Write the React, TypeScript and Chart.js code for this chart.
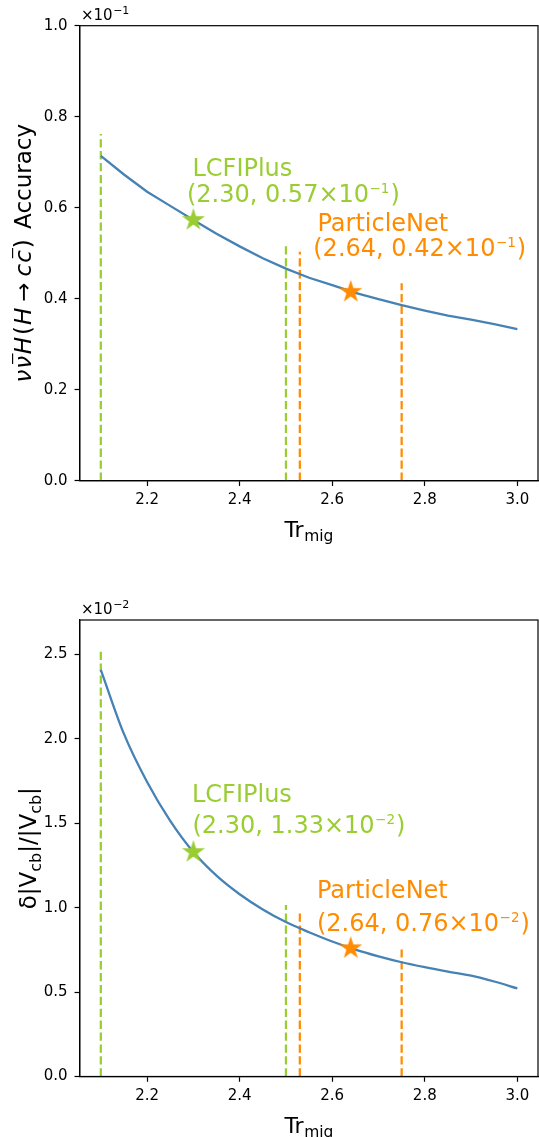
import React, { useEffect, useRef } from 'react';
import { Chart, registerables } from 'chart.js';

Chart.register(...registerables);

// ---------------- data ----------------
const trMig = [2.10, 2.15, 2.20, 2.25, 2.30, 2.35, 2.40, 2.45, 2.50, 2.55, 2.60, 2.65, 2.70, 2.75, 2.80, 2.85, 2.90, 2.95, 3.00];
// nu nubar H(H->c cbar) accuracy, in units of 1e-1
const accuracyE1 = [0.714, 0.673, 0.635, 0.604, 0.573, 0.543, 0.515, 0.489, 0.466, 0.446, 0.430, 0.413, 0.399, 0.386, 0.374, 0.363, 0.354, 0.344, 0.333];
// delta|Vcb|/|Vcb|, in units of 1e-2
const vcbRelErrE2 = [2.41, 2.03, 1.745, 1.515, 1.33, 1.19, 1.08, 0.99, 0.915, 0.855, 0.80, 0.752, 0.712, 0.677, 0.648, 0.622, 0.598, 0.563, 0.522];

const xTickValues = [2.2, 2.4, 2.6, 2.8, 3.0];
const accTickValues = [0.0, 0.2, 0.4, 0.6, 0.8, 1.0];
const vcbTickValues = [0.0, 0.5, 1.0, 1.5, 2.0, 2.5];

const lcfiRangeX = [2.10, 2.50];
const pnRangeX = [2.53, 2.75];
const accLcfiLineTops = [0.762, 0.516];
const accPnLineTops = [0.503, 0.434];
const vcbLcfiLineTops = [2.52, 1.016];
const vcbPnLineTops = [0.976, 0.753];

const methodNames = ['LCFIPlus', 'ParticleNet'];
const workingPointX = [2.30, 2.64];
const accWorkingPoints = [0.573, 0.415];
const vcbWorkingPoints = [1.33, 0.76];
const accPointLabels = ['(2.30, 0.57×10', '(2.64, 0.42×10'];
const vcbPointLabels = ['(2.30, 1.33×10', '(2.64, 0.76×10'];

// ---------------- style ----------------
const BLUE = '#4682b4';
const GREEN = '#9acd32';
const ORANGE = '#ff8c00';
const FONT = '"DejaVu Sans", "Liberation Sans", sans-serif';
const X_MIN = 2.0546;
const X_MAX = 3.0446;
const PLOT_LEFT = 79.8;
const PLOT_RIGHT = 538;

type Part = { t: string; size: number; italic?: boolean; dy?: number; dx?: number; bar?: boolean };

function fontOf(p: Part) {
  return `${p.italic ? 'italic ' : ''}${p.size}px ${FONT}`;
}

function drawParts(ctx: CanvasRenderingContext2D, parts: Part[], x: number, y: number, color: string, align: 'left' | 'center') {
  ctx.save();
  ctx.textBaseline = 'alphabetic';
  ctx.textAlign = 'left';
  ctx.fillStyle = color;
  ctx.strokeStyle = color;
  const widths = parts.map((p) => {
    ctx.font = fontOf(p);
    return ctx.measureText(p.t).width;
  });
  const total = parts.reduce((s, p, i) => s + widths[i] + (p.dx || 0), 0);
  let cx = align === 'center' ? x - total / 2 : x;
  parts.forEach((p, i) => {
    cx += p.dx || 0;
    ctx.font = fontOf(p);
    const yy = y + (p.dy || 0);
    ctx.fillText(p.t, cx, yy);
    if (p.bar) {
      const shift = p.italic ? p.size * 0.12 : 0;
      ctx.lineWidth = p.size * 0.05;
      ctx.beginPath();
      ctx.moveTo(cx + p.size * 0.08 + shift, yy - p.size * 0.8);
      ctx.lineTo(cx + widths[i] - p.size * 0.02 + shift, yy - p.size * 0.8);
      ctx.stroke();
    }
    cx += widths[i];
  });
  ctx.restore();
}

function makeStar(color: string, R: number) {
  const size = Math.ceil(2 * R + 4);
  const c = document.createElement('canvas');
  c.width = size;
  c.height = size;
  const g = c.getContext('2d')!;
  const cx = size / 2;
  const cy = size / 2;
  g.beginPath();
  for (let i = 0; i < 10; i++) {
    const r = i % 2 === 0 ? R : R * 0.381966;
    const a = -Math.PI / 2 + (i * Math.PI) / 5;
    const px = cx + r * Math.cos(a);
    const py = cy + r * Math.sin(a);
    if (i === 0) g.moveTo(px, py);
    else g.lineTo(px, py);
  }
  g.closePath();
  g.fillStyle = color;
  g.fill();
  g.lineWidth = 1.5;
  g.strokeStyle = color;
  g.stroke();
  return c;
}

type Annot = { name: string; color: string; x1: number; y1: number; x2: number; y2: number; value: string };

type Spec = {
  top: number;
  height: number;
  padTop: number;
  xAxisHeight: number;
  values: number[];
  smooth: boolean;
  yMax: number;
  yTicks: number[];
  lcfiTops: number[];
  pnTops: number[];
  stars: number[];
  exponent: string;
  yLabel: Part[];
  yLabelBaselineX: number;
  annots: Annot[];
};

function vline(x: number, top: number, color: string) {
  return {
    data: [{ x, y: 0 }, { x, y: top }],
    showLine: true,
    borderColor: color,
    borderWidth: 2.25,
    borderDash: [8.3, 3.6],
    pointRadius: 0,
    order: 3,
  };
}

// pin the plot area to the matplotlib axes box
const areaPlugin = {
  id: 'pinArea',
  afterLayout(chart: any) {
    const ca = chart.chartArea;
    ca.left = PLOT_LEFT;
    ca.right = PLOT_RIGHT;
    ca.width = ca.right - ca.left;
    const xs = chart.scales.x;
    xs.left = PLOT_LEFT;
    xs.right = PLOT_RIGHT;
    xs.width = PLOT_RIGHT - PLOT_LEFT;
    xs.configure();
  },
};

function buildConfig(spec: Spec): any {
  const curve = trMig.map((x, i) => ({ x, y: spec.values[i] }));
  const datasets: any[] = [
    {
      data: curve,
      showLine: true,
      borderColor: BLUE,
      borderWidth: 2.3,
      pointRadius: 0,
      cubicInterpolationMode: spec.smooth ? 'monotone' : 'default',
      tension: 0,
      order: 2,
    },
    vline(lcfiRangeX[0], spec.lcfiTops[0], GREEN),
    vline(lcfiRangeX[1], spec.lcfiTops[1], GREEN),
    vline(pnRangeX[0], spec.pnTops[0], ORANGE),
    vline(pnRangeX[1], spec.pnTops[1], ORANGE),
    {
      data: [{ x: workingPointX[0], y: spec.stars[0] }],
      pointStyle: makeStar(GREEN, 9.6),
      pointRadius: 10,
      order: 1,
    },
    {
      data: [{ x: workingPointX[1], y: spec.stars[1] }],
      pointStyle: makeStar(ORANGE, 9.6),
      pointRadius: 10,
      order: 1,
    },
  ];

  const textPlugin = {
    id: 'texts',
    afterDraw(chart: any) {
      const ctx: CanvasRenderingContext2D = chart.ctx;
      const a = chart.chartArea;
      const xs = chart.scales.x;
      const ys = chart.scales.y;
      // frame
      ctx.save();
      ctx.strokeStyle = '#000';
      ctx.lineWidth = 1.2;
      ctx.strokeRect(a.left, a.top, a.right - a.left, a.bottom - a.top);
      ctx.restore();
      // offset text
      drawParts(ctx, [
        { t: '×10', size: 15 },
        { t: spec.exponent, size: 11, dy: -6, dx: 0.5 },
      ], a.left + 1.2, a.top - 5.8, '#000', 'left');
      // x label
      drawParts(ctx, [
        { t: 'Tr', size: 22 },
        { t: 'mig', size: 15.5, dy: 4.5, dx: 0.5 },
      ], (a.left + a.right) / 2, a.bottom + 56, '#000', 'center');
      // y label
      ctx.save();
      ctx.translate(spec.yLabelBaselineX, (a.top + a.bottom) / 2);
      ctx.rotate(-Math.PI / 2);
      drawParts(ctx, spec.yLabel, 0, 0, '#000', 'center');
      ctx.restore();
      // annotations
      spec.annots.forEach((an) => {
        drawParts(ctx, [{ t: an.name, size: 24 }], xs.getPixelForValue(an.x1), ys.getPixelForValue(an.y1), an.color, 'left');
        drawParts(ctx, [
          { t: an.value, size: 24 },
          { t: spec.exponent, size: 13.5, dy: -9, dx: 0.5 },
          { t: ')', size: 24, dx: 1 },
        ], xs.getPixelForValue(an.x2), ys.getPixelForValue(an.y2), an.color, 'left');
      });
    },
  };

  const tickFont = { family: FONT, size: 15 };
  const gridOpts = {
    display: true,
    drawOnChartArea: false,
    drawTicks: true,
    tickLength: 5.25,
    tickWidth: 1.2,
    tickColor: '#000',
    color: '#000',
  };
  return {
    type: 'scatter',
    data: { datasets },
    options: {
      animation: false,
      responsive: false,
      maintainAspectRatio: false,
      events: [],
      layout: { padding: { top: spec.padTop, right: 1, left: 0, bottom: 0 } },
      plugins: { legend: { display: false }, tooltip: { enabled: false } },
      scales: {
        x: {
          type: 'linear',
          min: X_MIN,
          max: X_MAX,
          afterBuildTicks: (s: any) => {
            s.ticks = xTickValues.map((v) => ({ value: v }));
          },
          afterFit: (s: any) => {
            s.height = spec.xAxisHeight;
          },
          ticks: {
            callback: (v: any) => Number(v).toFixed(1),
            font: tickFont,
            color: '#000',
            padding: 5,
            autoSkip: false,
            maxRotation: 0,
          },
          grid: gridOpts,
          border: { display: true, color: '#000', width: 1.2 },
        },
        y: {
          type: 'linear',
          min: 0,
          max: spec.yMax,
          afterBuildTicks: (s: any) => {
            s.ticks = spec.yTicks.map((v) => ({ value: v }));
          },
          afterFit: (s: any) => {
            s.width = PLOT_LEFT;
          },
          ticks: {
            callback: (v: any) => Number(v).toFixed(1),
            font: tickFont,
            color: '#000',
            padding: 7,
            autoSkip: false,
          },
          grid: gridOpts,
          border: { display: true, color: '#000', width: 1.2 },
        },
      },
    },
    plugins: [areaPlugin, textPlugin],
  };
}

const accYLabel: Part[] = [
  { t: 'ν', size: 23, italic: true },
  { t: 'ν', size: 23, italic: true, bar: true, dx: 1 },
  { t: 'H', size: 23, italic: true, dx: 1.5 },
  { t: '(', size: 23, dx: 2 },
  { t: 'H', size: 23, italic: true, dx: 1 },
  { t: '→', size: 23, dx: 6 },
  { t: 'c', size: 23, italic: true, dx: 6 },
  { t: 'c', size: 23, italic: true, bar: true, dx: 1 },
  { t: ')', size: 23, dx: 2 },
  { t: ' Accuracy', size: 23, dx: 3 },
];

const vcbYLabel: Part[] = [
  { t: 'δ|V', size: 23 },
  { t: 'cb', size: 16, dy: 4.5 },
  { t: '|/|V', size: 23 },
  { t: 'cb', size: 16, dy: 4.5 },
  { t: '|', size: 23 },
];

const topSpec: Spec = {
  top: 0,
  height: 568,
  padTop: 25.7,
  xAxisHeight: 87.3,
  values: accuracyE1,
  smooth: false,
  yMax: 1.0,
  yTicks: accTickValues,
  lcfiTops: accLcfiLineTops,
  pnTops: accPnLineTops,
  stars: accWorkingPoints,
  exponent: '−1',
  yLabel: accYLabel,
  yLabelBaselineX: 31,
  annots: [
    { name: methodNames[0], color: GREEN, x1: 2.298, y1: 0.669, x2: 2.286, y2: 0.613, value: accPointLabels[0] },
    { name: methodNames[1], color: ORANGE, x1: 2.568, y1: 0.549, x2: 2.559, y2: 0.493, value: accPointLabels[1] },
  ],
};

const bottomSpec: Spec = {
  top: 568,
  height: 569,
  padTop: 52,
  xAxisHeight: 60.5,
  values: vcbRelErrE2,
  smooth: true,
  yMax: 2.705,
  yTicks: vcbTickValues,
  lcfiTops: vcbLcfiLineTops,
  pnTops: vcbPnLineTops,
  stars: vcbWorkingPoints,
  exponent: '−2',
  yLabel: vcbYLabel,
  yLabelBaselineX: 36,
  annots: [
    { name: methodNames[0], color: GREEN, x1: 2.297, y1: 1.628, x2: 2.298, y2: 1.442, value: vcbPointLabels[0] },
    { name: methodNames[1], color: ORANGE, x1: 2.567, y1: 1.057, x2: 2.567, y2: 0.864, value: vcbPointLabels[1] },
  ],
};

function PlotCanvas({ spec }: { spec: Spec }) {
  const ref = useRef<HTMLCanvasElement>(null);
  useEffect(() => {
    if (!ref.current) return;
    const chart = new Chart(ref.current, buildConfig(spec));
    return () => chart.destroy();
  }, [spec]);
  return (
    <canvas
      ref={ref}
      width={539}
      height={spec.height}
      style={{ position: 'absolute', left: 0, top: spec.top, width: 539, height: spec.height }}
    />
  );
}

export default function App() {
  return (
    <div style={{ position: 'absolute', left: 0, top: 0, width: 539, height: 1137, background: '#fff' }}>
      <PlotCanvas spec={topSpec} />
      <PlotCanvas spec={bottomSpec} />
    </div>
  );
}
